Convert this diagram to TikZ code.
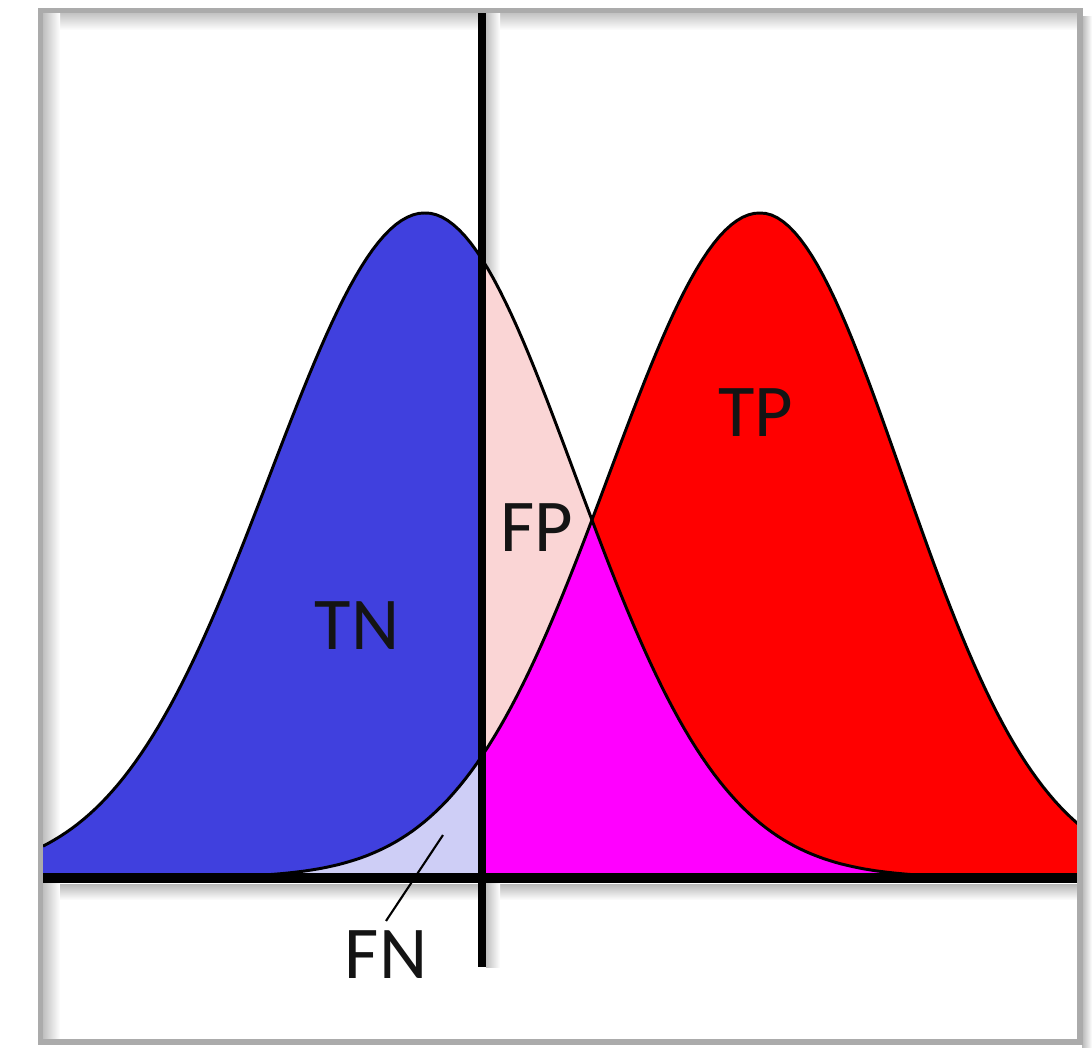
\documentclass[tikz,border=0pt]{standalone}
\usepackage{fontspec}
\setmainfont{Carlito}
\definecolor{tnblue}{RGB}{64,64,222}
\definecolor{fnblue}{RGB}{206,206,246}
\definecolor{fppink}{RGB}{250,213,213}
\definecolor{tpred}{RGB}{255,0,0}
\definecolor{ovmag}{RGB}{255,0,255}
\definecolor{framegray}{RGB}{171,171,171}
\begin{document}
\begin{tikzpicture}[x=0.025cm,y=-0.025cm,
  declare function={sb(\x)=ifthenelse(\x<425,155,150);
                    sr(\x)=ifthenelse(\x<760,151,142);
                    gb(\x)=878-665*exp(-0.5*((\x-425)/sb(\x))^2);
                    gr(\x)=878-665*exp(-0.5*((\x-760)/sr(\x))^2);},
  curve/.style={line width=2.1pt, black, line join=round},
  bar/.style={black, line width=#1},
  lbl/.style={font=\fontsize{53}{60}\selectfont, text=black!92, inner sep=0pt},
  samples=180]
\useasboundingbox (0,0) rectangle (1092,1047);
\fill[white] (0,0) rectangle (1092,1047);
% frame shadows
\shade[top color=black!25, bottom color=white] (43,12) rectangle (1078,30);
\shade[left color=black!25, right color=white] (43,12) rectangle (60,1040);
\shade[left color=black!28, right color=white] (1082,16) rectangle (1092,1047);
% line shadows
\shade[top color=black!28, bottom color=white] (60,884) rectangle (1078,900);
\shade[left color=black!25, right color=white] (486,12) rectangle (500,967);
% regions
\fill[tnblue] (43,878) -- plot[domain=43:482] ({\x},{gb(\x)}) -- (482,878) -- cycle;
\fill[fppink] (482,878) -- plot[domain=482:1078] ({\x},{gb(\x)}) -- (1078,878) -- cycle;
\fill[tpred] (482,878) -- plot[domain=482:1078] ({\x},{gr(\x)}) -- (1078,878) -- cycle;
\fill[fnblue] (43,878) -- plot[domain=43:482] ({\x},{gr(\x)}) -- (482,878) -- cycle;
\begin{scope}
  \clip (482,878) -- plot[domain=482:1078] ({\x},{gb(\x)}) -- (1078,878) -- cycle;
  \fill[ovmag] (482,878) -- plot[domain=482:1078] ({\x},{gr(\x)}) -- (1078,878) -- cycle;
\end{scope}
% curves
\draw[curve] plot[domain=43:1078] ({\x},{gb(\x)});
\draw[curve] plot[domain=43:1078] ({\x},{gr(\x)});
% axes
\coordinate (axL) at (43,878);
\coordinate (axR) at (1078,878);
\coordinate (thT) at (482,12);
\coordinate (thB) at (482,967);
\draw[bar=7.6pt] (axL) -- (axR);
\draw[bar=5.6pt] (thT) -- (thB);
% labels
\node[lbl] (TN) at (357,626) {TN};
\node[lbl] (FP) at (537,528) {FP};
\node[lbl] (TP) at (756,413) {TP};
\node[lbl] (FN) at (386,955) {FN};
\coordinate (fntip) at (443,835);
\draw[line width=1.5pt, black] ([yshift=7pt]FN.north) -- (fntip);
% frame
\draw[framegray, line width=3.6pt] (40.5,10.5) rectangle (1080,1042);
\end{tikzpicture}
\end{document}
